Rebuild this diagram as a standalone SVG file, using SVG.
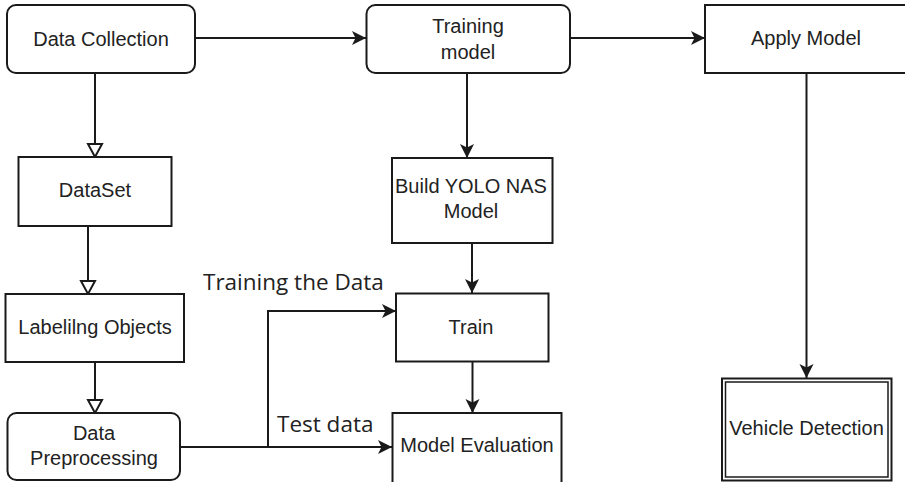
<svg xmlns="http://www.w3.org/2000/svg" width="905" height="482" viewBox="0 0 905 482">
<defs>
<style>
.box{fill:#fff;stroke:#1a1a1a;stroke-width:2}
.t{font-family:"Liberation Sans",Arial,sans-serif;font-size:20px;fill:#222;text-anchor:middle}
.lbl{font-family:"Open Sans","Noto Sans",sans-serif;font-size:22.5px;fill:#222}
.e{fill:none;stroke:#1a1a1a;stroke-width:2}
.ef{marker-end:url(#cl)}
.eh{marker-end:url(#op)}
</style>
<marker id="cl" markerUnits="userSpaceOnUse" markerWidth="16" markerHeight="16" refX="14" refY="7" orient="auto" overflow="visible">
<path d="M0,0 L14,7 L0,14 L3.5,7 Z" fill="#1a1a1a"/>
</marker>
<marker id="op" markerUnits="userSpaceOnUse" markerWidth="18" markerHeight="18" refX="14" refY="8" orient="auto" overflow="visible">
<path d="M1,1 L14,8 L1,15 Z" fill="#fff" stroke="#1a1a1a" stroke-width="2"/>
</marker>
</defs>
<rect width="905" height="482" fill="#fff"/>
<g id="connectors">
<path class="e ef" d="M195,38 H366"/>
<path class="e eh" d="M95,73 V157"/>
<path class="e eh" d="M88,226 V294"/>
<path class="e eh" d="M95,362 V413"/>
<path class="e ef" d="M181,447 H392"/>
<path class="e ef" d="M268,447 V311 H396"/>
<path class="e ef" d="M467,73 V158"/>
<path class="e ef" d="M472,243 V293"/>
<path class="e ef" d="M472.5,362 V413"/>
<path class="e ef" d="M570,38 H705"/>
<path class="e ef" d="M806.5,73 V378"/>
<text class="lbl" x="203" y="290">Training the Data</text>
<text class="lbl" x="277" y="432">Test data</text>
</g>
<g id="data-collection">
<rect class="box" x="7" y="5" width="188" height="68" rx="9"/>
<text class="t" x="101" y="46">Data Collection</text>
</g>
<g id="dataset">
<rect class="box" x="18.5" y="157" width="153" height="69"/>
<text class="t" x="95" y="197">DataSet</text>
</g>
<g id="labeling">
<rect class="box" x="5.5" y="294" width="178.5" height="68"/>
<text class="t" x="95" y="334">Labelilng Objects</text>
</g>
<g id="data-preprocessing">
<rect class="box" x="7.5" y="413" width="172.5" height="67" rx="9"/>
<text class="t" x="94" y="440">Data</text>
<text class="t" x="94" y="465">Preprocessing</text>
</g>
<g id="training-model">
<rect class="box" x="366.5" y="5" width="203.5" height="68" rx="9"/>
<text class="t" x="468" y="33">Training</text>
<text class="t" x="468" y="59">model</text>
</g>
<g id="build-yolo">
<rect class="box" x="392" y="158" width="160.5" height="85"/>
<text class="t" x="471" y="193">Build YOLO NAS</text>
<text class="t" x="471" y="218">Model</text>
</g>
<g id="train">
<rect class="box" x="396" y="293.5" width="152.5" height="68"/>
<text class="t" x="471" y="334">Train</text>
</g>
<g id="model-evaluation">
<rect class="box" x="392.5" y="413" width="169" height="70"/>
<text class="t" x="477" y="452">Model Evaluation</text>
</g>
<g id="apply-model">
<rect class="box" x="705" y="5" width="210" height="68"/>
<text class="t" x="806" y="45">Apply Model</text>
</g>
<g id="vehicle-detection">
<rect class="box" x="722" y="378.5" width="169.5" height="102"/>
<rect x="725.5" y="382" width="162.5" height="95" fill="none" stroke="#1a1a1a" stroke-width="1.5"/>
<text class="t" x="806.5" y="435">Vehicle Detection</text>
</g>
</svg>
